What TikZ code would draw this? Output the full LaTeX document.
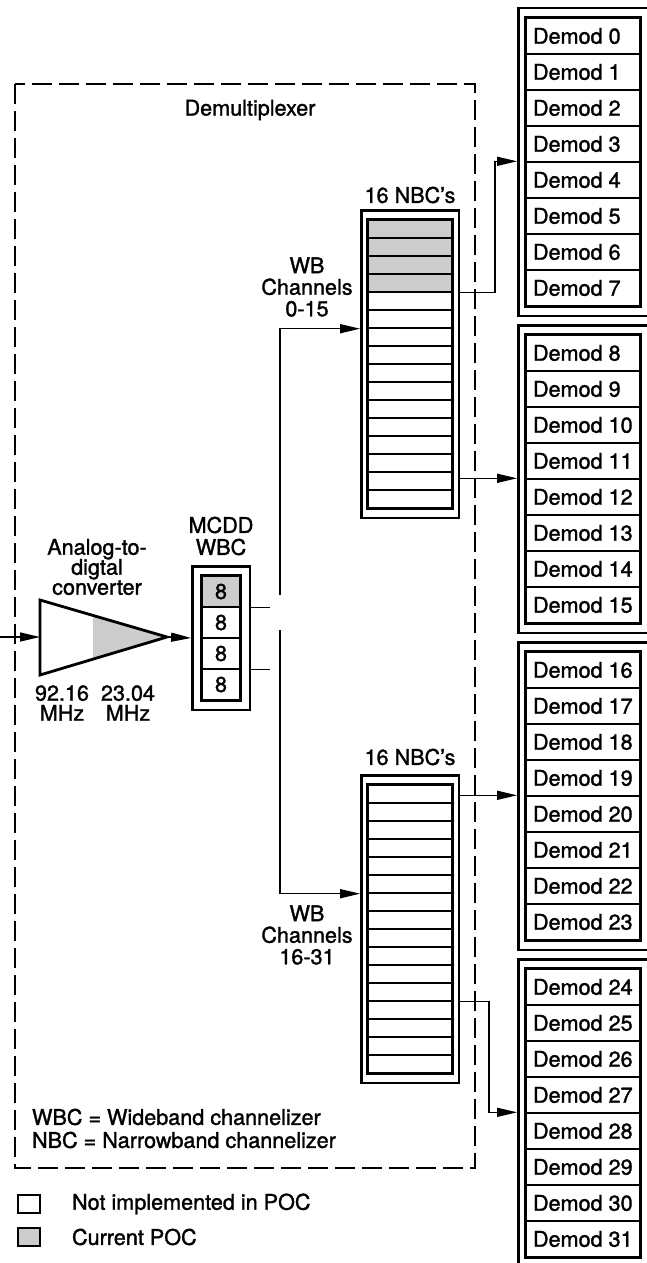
\documentclass[tikz,border=0pt]{standalone}
\usepackage{fontspec}
\setmainfont{TeX Gyre Heros}[FakeBold=1.4]
\usetikzlibrary{arrows.meta,fit}

\newcommand\tightlines{\lineskiplimit=-5pt\relax}
\tikzset{
  every node/.style={font=\fontsize{10.8}{10.8}\selectfont},
  demod/.style={draw, line width=0.7pt, minimum width=57pt, minimum height=18pt, inner sep=0pt},
  nbc/.style={draw, line width=0.7pt, minimum width=42pt, minimum height=9pt, inner sep=0pt},
  wbcell/.style={draw, line width=0.7pt, minimum width=19pt, minimum height=15.5pt, inner sep=0pt},
  outerframe/.style={draw, line width=1.2pt, inner sep=4.5pt},
  poc/.style={fill=black!20},
  wire/.style={line width=0.7pt},
  keybox/.style={draw, line width=1pt, minimum width=11pt, minimum height=9pt, inner sep=0pt},
}

\begin{document}
\begin{tikzpicture}[x=0.5pt, y=-0.5pt, >={Triangle[length=10pt,width=4.5pt]}]
        \useasboundingbox (0,0) rectangle (647,1263);

        % Riquadro demultiplexer
        \draw[line width=0.9pt, dash pattern=on 10pt off 3.5pt] (15,84) rectangle (475,1168);
        \node (demux) at (250,110) {Demultiplexer};

        % Convertitore A/D
        \coordinate (src) at (0,637);
        \coordinate (adcin) at (40,637);
        \coordinate (adcout) at (167,637);
        \fill[poc] (93,615.4) -- (adcout) -- (93,659.1) -- cycle;
        \draw[line width=1.4pt, line join=miter] (40,600) -- (adcout) -- (40,675) -- cycle;
        \node[align=center, font=\fontsize{10.8}{10}\selectfont\tightlines] (adclbl) at (97,567) {Analog-to-\\digtal\\converter};
        \node[align=center, font=\fontsize{10.8}{10}\selectfont\tightlines] (f1) at (62,703) {92.16\\MHz};
        \node[align=center, font=\fontsize{10.8}{10}\selectfont\tightlines] (f2) at (128,703) {23.04\\MHz};

        % MCDD WBC
        \node[wbcell, poc] (w1) at (221,591.5) {8};
        \foreach \k in {2,3,4}
          \node[wbcell] (w\k) at (221,{560.5+31*\k}) {8};
        \draw[line width=1.2pt] (w1.north west) rectangle (w4.south east);
        \node[outerframe, fit=(w1)(w4)] (wbc) {};
        \node[align=center, font=\fontsize{10.8}{11}\selectfont] (wbclbl) at (221,536) {MCDD\\WBC};

        \draw[wire, ->] (src) -- (adcin);
        \draw[wire, ->] (adcout) -- (wbc.west);
        \draw[wire] (wbc.east |- w1.south) -- ++(19,0);
        \draw[wire] (wbc.east |- w3.south) -- ++(19,0);

        % NBC superiori e inferiori
        \foreach \k in {1,...,16}{
          \ifnum\k<5
            \node[nbc, poc] (a\k) at (410,{211+18*\k}) {};
          \else
            \node[nbc] (a\k) at (410,{211+18*\k}) {};
          \fi
          \node[nbc] (b\k) at (410,{776+18*\k}) {};
        }
        \draw[line width=1.2pt] (a1.north west) rectangle (a16.south east);
        \draw[line width=1.2pt] (b1.north west) rectangle (b16.south east);
        \node[outerframe, inner xsep=3pt, fit=(a1)(a16)] (nbcA) {};
        \node[outerframe, inner xsep=3pt, fit=(b1)(b16)] (nbcB) {};
        \node (nbcAlbl) at (410,195) {16 NBC's};
        \node (nbcBlbl) at (410,757) {16 NBC's};

        % Canali WB
        \coordinate (upsplit) at (280,595);
        \coordinate (losplit) at (280,630);
        \draw[wire, ->] (upsplit) |- (nbcA.west |- a6.south);
        \draw[wire, ->] (losplit) |- (nbcB.west |- b6.south);
        \node[align=center] (wbA) at (307,287) {WB\\Channels\\0-15};
        \node[align=center] (wbB) at (307,935) {WB\\Channels\\16-31};

        % Demodulatori
        \foreach \g in {0,...,3}{
          \foreach \j in {0,...,7}{
            \pgfmathtruncatemacro{\k}{8*\g+\j}
            \node[demod] (d\k) at (583,{36+317*\g+36*\j}) {\makebox[50pt][l]{Demod \k}};
          }
        }
        \foreach \g/\a/\b in {0/0/7, 1/8/15, 2/16/23, 3/24/31}{
          \draw[line width=1.2pt] (d\a.north west) rectangle (d\b.south east);
          \node[outerframe, inner xsep=3.5pt, fit=(d\a)(d\b)] (g\g) {};
        }

        % Collegamenti NBC -> demodulatori
        \draw[wire, ->] (nbcA.east |- a4.south) -- ++(35,0) |- (g0.west |- d4.north);
        \draw[wire, ->] (nbcA.east |- d12.north) -- (g1.west |- d12.north);
        \draw[wire, ->] (nbcB.east |- d20.north) -- (g2.west |- d20.north);
        \draw[wire, ->] (nbcB.east |- b12.south) -- ++(29,0) |- (g3.west |- d28.north);

        % Legenda
        \node[anchor=west] (wbcdef) at (25,1117) {WBC = Wideband channelizer};
        \node[anchor=west] (nbcdef) at (25,1140) {NBC = Narrowband channelizer};
        \node[keybox] (keyA) at (29,1204) {};
        \node[keybox, poc] (keyB) at (29,1237) {};
        \node[anchor=west] (keyAlbl) at (65,1204) {Not implemented in POC};
        \node[anchor=west] (keyBlbl) at (65,1237) {Current POC};
    \end{tikzpicture}
\end{document}
